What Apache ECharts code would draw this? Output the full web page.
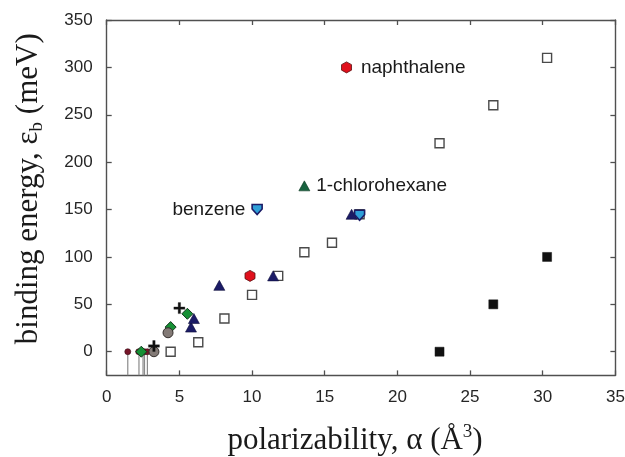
<!DOCTYPE html>
<html>
<head>
<meta charset="utf-8">
<script src="https://cdn.jsdelivr.net/npm/echarts@6/dist/echarts.min.js"></script>
<style>
  html, body { margin: 0; padding: 0; background: #ffffff; }
  #chart { width: 625px; height: 457px; }
</style>
</head>
<body>
<div id="chart"></div>
<script>
// Binding energy (meV) versus polarizability (Å^3), one pair of arrays per marker group.
const openSquareAlpha   = [4.4, 6.3, 8.1, 10.0, 11.8, 13.6, 15.5, 17.4, 22.9, 26.6, 30.3];
const openSquareEnergy  = [0, 10, 35, 60, 80, 105, 115, 145, 220, 260, 310];

const filledSquareAlpha  = [22.9, 26.6, 30.3];
const filledSquareEnergy = [0, 50, 100];

const navyTriangleAlpha  = [5.8, 6.0, 7.75, 11.45, 16.85];
const navyTriangleEnergy = [26, 35, 70, 80, 145];

const greenDiamondAlpha  = [2.38, 4.4, 5.55];
const greenDiamondEnergy = [0, 26, 40];

const grayCircleAlpha  = [3.25, 4.22];
const grayCircleEnergy = [0, 20];

const crossAlpha  = [3.25, 5.0];
const crossEnergy = [6, 46];

const smallDotAlpha  = [1.45, 2.2, 2.6, 2.8];
const smallDotEnergy = [0, 0, 0, 0];

// lower error stems hanging below the zero-energy points
const stemAlpha  = [1.45, 2.22, 2.5, 2.6, 2.8];
const stemEnergy = [0, 0, 0, 0, 0];

const redHexAlpha  = [9.86, 16.5];
const redHexEnergy = [80, 300];
const redHexNames  = ['', 'naphthalene'];

const chloroAlpha  = [13.6];
const chloroEnergy = [175];
const chloroNames  = ['1-chlorohexane'];

const benzeneAlpha  = [10.35, 17.4];
const benzeneEnergy = [150, 144];
const benzeneNames  = ['benzene', ''];

const xTicks = [0, 5, 10, 15, 20, 25, 30, 35];
const yTicks = [0, 50, 100, 150, 200, 250, 300, 350];

const X_MIN = 0, X_MAX = 35, Y_MIN = -25, Y_MAX = 350;

const zip = (xs, ys) => xs.map((x, i) => [x, ys[i]]);

const axisColor = '#505050';
const labelFont = { fontFamily: 'Liberation Sans, Arial, sans-serif', fontSize: 17, color: '#262626' };

const hexPath = 'path://M0,-1 L0.866,-0.5 L0.866,0.5 L0,1 L-0.866,0.5 L-0.866,-0.5 Z';
const crossPath = 'path://M3.9,0 H6.1 V3.9 H10 V6.1 H6.1 V10 H3.9 V6.1 H0 V3.9 H3.9 Z';
const shieldPath = 'path://M0,0 H10 V4.5 L5,10 L0,4.5 Z';

const annot = {
  show: true,
  formatter: p => p.name,
  fontFamily: 'Liberation Sans, Arial, sans-serif',
  fontSize: 19,
  color: '#1a1a1a'
};

function namedData(xs, ys, names) {
  return xs.map((x, i) => ({ name: names[i], value: [x, ys[i]] }));
}

const chart = echarts.init(document.getElementById('chart'), null, { renderer: 'canvas' });

const frameAxis = {
  axisLine: { show: true, onZero: false, lineStyle: { color: axisColor, width: 1.4 } },
  axisTick: { show: true, inside: true, length: 5, lineStyle: { color: axisColor, width: 1.3 } },
  splitLine: { show: false }
};

const serifFamily = 'Liberation Serif, Times New Roman, serif';
function serifTitle(padding) {
  return {
    fontFamily: serifFamily,
    fontSize: 31,
    color: '#1a1a1a',
    padding: padding,
    rich: {
      n: { fontFamily: serifFamily, fontSize: 31, color: '#1a1a1a', lineHeight: 36 },
      sub: { fontFamily: serifFamily, fontSize: 19, color: '#1a1a1a', lineHeight: 12, verticalAlign: 'bottom' },
      sup: { fontFamily: serifFamily, fontSize: 19, color: '#1a1a1a', lineHeight: 12, verticalAlign: 'top' }
    }
  };
}

const pointStyle = (fill, border, width) => ({ color: fill, borderColor: border, borderWidth: width, opacity: 1 });

const option = {
  animation: false,
  backgroundColor: '#ffffff',
  grid: {
    left: 106.7, right: 9.6, top: 20, bottom: 81.6,
    containLabel: false,
    outerBoundsMode: 'none'
  },
  xAxis: [
    Object.assign({
      type: 'value', position: 'bottom', min: X_MIN, max: X_MAX, interval: 5,
      name: '{n|polarizability, α (Å}{sup|3}{n|)}',
      nameLocation: 'middle', nameGap: 47,
      nameTextStyle: serifTitle([0, 12, 0, 0]),
      axisLabel: Object.assign({ margin: 13, customValues: xTicks }, labelFont)
    }, frameAxis),
    Object.assign({
      type: 'value', position: 'top', min: X_MIN, max: X_MAX, interval: 5,
      axisLabel: { show: false }
    }, frameAxis)
  ],
  yAxis: [
    Object.assign({
      type: 'value', position: 'left', min: Y_MIN, max: Y_MAX, interval: 25,
      name: '{n|binding energy, ε}{sub|b}{n| (meV)}',
      nameLocation: 'middle', nameGap: 60,
      nameTextStyle: serifTitle([0, 0, 0, 18]),
      axisLabel: Object.assign({ margin: 14, customValues: yTicks }, labelFont)
    }, frameAxis, {
      axisTick: { show: true, inside: true, length: 5, customValues: yTicks, lineStyle: { color: axisColor, width: 1.3 } }
    }),
    Object.assign({
      type: 'value', position: 'right', min: Y_MIN, max: Y_MAX, interval: 25,
      axisLabel: { show: false }
    }, frameAxis, {
      axisTick: { show: true, inside: true, length: 5, customValues: yTicks, lineStyle: { color: axisColor, width: 1.3 } }
    })
  ],
  series: [
    {
      type: 'custom',
      name: 'stems',
      clip: true,
      data: zip(stemAlpha, stemEnergy),
      renderItem: (params, api) => {
        const top = api.coord([api.value(0), api.value(1)]);
        const bottom = api.coord([api.value(0), Y_MIN]);
        return {
          type: 'line',
          shape: { x1: top[0], y1: top[1], x2: bottom[0], y2: bottom[1] },
          style: { stroke: '#8a8a8a', lineWidth: 1.2 }
        };
      },
      z: 1
    },
    {
      type: 'scatter', name: 'open squares',
      data: zip(openSquareAlpha, openSquareEnergy),
      symbol: 'rect', symbolSize: 9,
      itemStyle: pointStyle('#ffffff', '#4a4a4a', 1.4),
      z: 2
    },
    {
      type: 'scatter', name: 'filled squares',
      data: zip(filledSquareAlpha, filledSquareEnergy),
      symbol: 'rect', symbolSize: 9,
      itemStyle: pointStyle('#111111', '#111111', 0.5),
      z: 2
    },
    {
      type: 'scatter', name: 'small dots',
      data: zip(smallDotAlpha, smallDotEnergy),
      symbol: 'circle', symbolSize: 6,
      itemStyle: pointStyle('#761528', '#3a0c15', 0.6),
      z: 3
    },
    {
      type: 'scatter', name: 'navy triangles',
      data: zip(navyTriangleAlpha, navyTriangleEnergy),
      symbol: 'triangle', symbolSize: [11, 10],
      itemStyle: pointStyle('#1b1b66', '#0f0f3d', 0.6),
      z: 4
    },
    {
      type: 'scatter', name: 'green diamonds',
      data: zip(greenDiamondAlpha, greenDiamondEnergy),
      symbol: 'diamond', symbolSize: [11, 11],
      itemStyle: pointStyle('#169035', '#14361f', 1),
      z: 4
    },
    {
      type: 'scatter', name: 'gray circles',
      data: zip(grayCircleAlpha, grayCircleEnergy),
      symbol: 'circle', symbolSize: 10,
      itemStyle: pointStyle('#837a76', '#332d2b', 1),
      z: 4
    },
    {
      type: 'scatter', name: 'crosses',
      data: zip(crossAlpha, crossEnergy),
      symbol: crossPath, symbolSize: 11,
      itemStyle: pointStyle('#111111', '#111111', 0.3),
      z: 5
    },
    {
      type: 'scatter', name: 'red hexagons',
      data: namedData(redHexAlpha, redHexEnergy, redHexNames),
      symbol: hexPath, symbolSize: [10, 11],
      itemStyle: pointStyle('#e0101c', '#5a1010', 0.8),
      label: Object.assign({ position: 'right', distance: 9 }, annot),
      z: 5
    },
    {
      type: 'scatter', name: 'chlorohexane',
      data: namedData(chloroAlpha, chloroEnergy, chloroNames),
      symbol: 'triangle', symbolSize: [11, 10],
      itemStyle: pointStyle('#17623f', '#0c3520', 0.6),
      label: Object.assign({ position: 'right', distance: 6 }, annot),
      z: 5
    },
    {
      type: 'scatter', name: 'benzene',
      data: namedData(benzeneAlpha, benzeneEnergy, benzeneNames),
      symbol: shieldPath, symbolSize: [10, 10],
      itemStyle: pointStyle('#2f9fd8', '#1b1b66', 1.6),
      label: Object.assign({ position: 'left', distance: 6 }, annot),
      z: 6
    }
  ]
};

chart.setOption(option);
</script>
</body>
</html>
